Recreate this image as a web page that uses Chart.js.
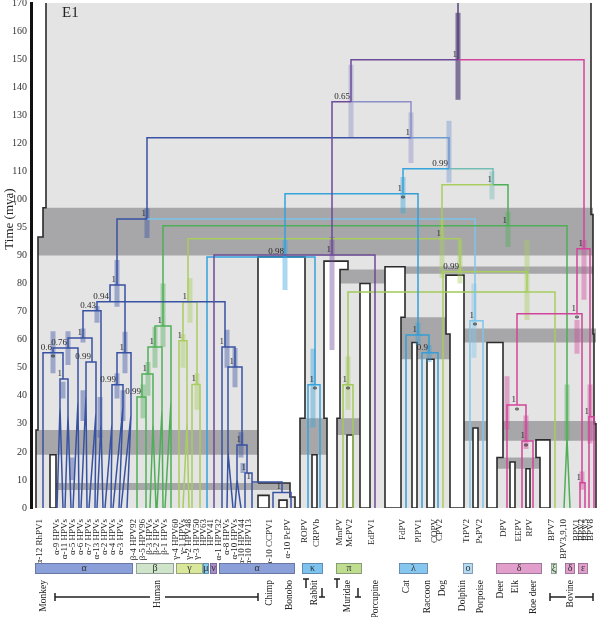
<!DOCTYPE html>
<html>
<head>
<meta charset="utf-8">
<script src="https://cdn.jsdelivr.net/npm/chart.js@4.4.1/dist/chart.umd.min.js"></script>
<style>
  html, body { margin: 0; padding: 0; background: #fff; }
</style>
</head>
<body>
<canvas id="tree" width="606" height="617"></canvas>
<script>
// ---- axis values ----
const yTicks = [0, 10, 20, 30, 40, 50, 60, 70, 80, 90, 95, 100, 110, 120, 130, 140, 150, 160, 170];

// ---- terminal taxa (left to right) ----
const taxa = ['α-12 RhPV1', 'α-9 HPVs', 'α-11 HPVs', 'α-5 HPVs', 'α-6 HPVs', 'α-7 HPVs', 'α-13 HPVs', 'α-2 HPVs',
  'α-4 HPVs', 'α-3 HPVs', 'β-4 HPV92', 'β-5 HPV96', 'β-3 HPVs', 'β-2 HPVs', 'β-1 HPVs', 'γ-4 HPV60', 'γ-1 HPVs',
  'γ-2 HPV48', 'γ-3 HPV50', 'HPV63', 'HPV41', 'α-1 HPV32', 'α-8 HPVs', 'α-10 HPVs', 'α-10 HPV44', 'α-10 HPV13',
  'α-10 CCPV1', 'α-10 PcPV', 'ROPV', 'CRPVb', 'MmPV', 'McPV2', 'EdPV1', 'FdPV', 'PlPV1', 'COPV', 'CPV2',
  'TtPV2', 'PsPV2', 'DPV', 'EEPV', 'RPV', 'BPV7', 'BPV3,9,10', 'BPV1', 'BPV2', 'BPV5', 'BPV8'];
const taxonX = [43, 60, 68, 76, 84, 92, 100, 108, 116, 124, 137, 146, 153, 160, 168, 179, 186, 192, 200, 207, 214,
  222, 230, 238, 245, 252, 273, 291, 308, 320, 343, 353, 375, 406, 422, 438, 443, 470, 483, 507, 522, 533, 555,
  567, 580, 585, 589, 594];

// ---- internal nodes: id, parent, x, age (mya), lineage ----
const nodes = [
  ['top', null, 458, 170, 'root'], ['R', 'top', 458, 149.8, 'root'],
  ['P065', 'R', 351, 134.8, 'nu'], ['DE', 'R', 584, 91.2, 'delta'],
  ['P1', 'P065', 332, 90.1, 'nu'], ['B1', 'P065', 411, 122, 'lav'],
  ['AO', 'B1', 147, 96.5, 'alpha'], ['C099', 'B1', 449, 110.9, 'slate'],
  ['K1', 'C099', 403, 102, 'kappa'], ['G1', 'C099', 493, 105.2, 'teal'],
  ['K098', 'K1', 285, 89.5, 'kappa'], ['L1', 'K1', 418, 61.7, 'lambda'], ['L2', 'L1', 429, 55.3, 'lambda'],
  ['Y1', 'G1', 442, 93, 'gamma'], ['X1', 'G1', 508, 95.3, 'beta'],
  ['Y099', 'Y1', 460, 84.2, 'gamma'], ['Y2', 'Y099', 527, 77, 'gamma'],
  ['O', 'AO', 475, 66.7, 'omikron'],
  ['Acr', 'AO', 117, 79.5, 'alpha'], ['N094', 'Acr', 110, 73.5, 'alpha'], ['N043', 'N094', 97, 70.3, 'alpha'],
  ['N1', 'N043', 83, 60.6, 'alpha'], ['N076', 'N1', 68, 57, 'alpha'], ['N06', 'N076', 53, 55.3, 'alpha'],
  ['Nx', 'N06', 63, 46, 'alpha'], ['N099a', 'N1', 92, 52, 'alpha'], ['NR', 'Acr', 125, 55.3, 'alpha'],
  ['N099b', 'NR', 117, 43.9, 'alpha'],
  ['A2', 'N094', 225, 57.4, 'alpha'], ['A2b', 'A2', 235, 50.3, 'alpha'], ['A2c', 'A2b', 242, 22.5, 'alpha'],
  ['A2d', 'A2c', 247, 12.5, 'alpha'], ['A2e', 'A2d', 252, 9.3, 'alpha'], ['A2f', 'A2e', 282, 5.5, 'alpha'],
  ['Bcr', 'X1', 163, 64.9, 'beta'], ['Bb', 'Bcr', 155, 57.4, 'beta'], ['Bc', 'Bb', 148, 47.8, 'beta'],
  ['Bd', 'Bc', 142, 39.6, 'beta'],
  ['Gcr', 'Y1', 188, 73.5, 'gamma'], ['Ga', 'Gcr', 183, 59.6, 'gamma'], ['Gb', 'Gcr', 197, 44, 'gamma'],
  ['Kc', 'K098', 315, 43.9, 'kappa'], ['Pc', 'Y2', 348, 43.9, 'pi'],
  ['D1', 'DE', 577, 69.2, 'delta'], ['D2', 'D1', 517, 36.7, 'delta'], ['D3', 'D2', 526, 23.9, 'delta'],
  ['BP12', 'D1', 582, 9, 'delta'], ['E1n', 'DE', 590, 32.5, 'delta']
];

// ---- tips, same order as taxa: parent, x of branch, crown age of the clade triangle, lineage ----
const tips = [
  ['N06', 43, 0, 'alpha'], ['Nx', 60, 36, 'alpha'], ['Nx', 68, 33, 'alpha'], ['N076', 78, 38, 'alpha'],
  ['N099a', 86, 40, 'alpha'], ['N099a', 96, 34, 'alpha'], ['N043', 101, 30, 'alpha'], ['N099b', 112, 30, 'alpha'],
  ['N099b', 123, 36, 'alpha'], ['NR', 131, 33, 'alpha'],
  ['Bd', 137, 0, 'beta'], ['Bd', 146, 0, 'beta'], ['Bc', 153, 30, 'beta'], ['Bb', 162, 35, 'beta'], ['Bcr', 171, 38, 'beta'],
  ['Ga', 179, 0, 'gamma'], ['Ga', 187, 30, 'gamma'], ['Gb', 192, 0, 'gamma'], ['Gb', 200, 0, 'gamma'],
  ['K098', 207, 0, 'kappa'], ['P1', 214, 0, 'nu'],
  ['A2', 222, 0, 'alpha'], ['A2b', 228, 20, 'alpha'], ['A2c', 237, 10, 'alpha'], ['A2d', 245, 0, 'alpha'],
  ['A2e', 252, 0, 'alpha'], ['A2f', 273, 0, 'alpha'], ['A2f', 291, 0, 'alpha'],
  ['Kc', 308, 0, 'kappa'], ['Kc', 320, 0, 'kappa'], ['Pc', 343, 0, 'pi'], ['Pc', 353, 0, 'pi'], ['P1', 375, 0, 'nu'],
  ['L1', 406, 0, 'lambda'], ['L2', 422, 0, 'lambda'], ['L2', 438, 0, 'lambda'], ['Y099', 443, 0, 'gamma'],
  ['O', 470, 0, 'omikron'], ['O', 483, 0, 'omikron'],
  ['D2', 507, 0, 'delta'], ['D3', 522, 0, 'delta'], ['D3', 533, 0, 'delta'],
  ['Y2', 555, 0, 'gamma'], ['X1', 567, 25, 'beta'],
  ['BP12', 580, 0, 'delta'], ['BP12', 585, 0, 'delta'], ['E1n', 589, 0, 'delta'], ['E1n', 594, 0, 'delta']
];

// ---- 95% HPD bars: x, low, high, lineage ----
const hpd = [
  [458, 135.5, 166.5, 'root'], [351, 122, 148, 'lav'], [411, 113, 131, 'lav'], [449, 106, 128, 'slate'],
  [403, 97.5, 108, 'kappa'], [492, 100, 110, 'teal'], [508, 91.5, 97.7, 'beta'], [442, 82, 96.5, 'gamma'],
  [285, 77.7, 92.8, 'kappa'], [332, 56.3, 93.3, 'nu'], [147, 93.1, 98.4, 'alpha'], [584, 74.2, 92.8, 'delta'],
  [460, 80, 92.8, 'gamma'], [527, 67, 92.8, 'gamma'], [190, 66, 82, 'gamma'], [183, 50, 62, 'gamma'],
  [197, 35, 48, 'gamma'], [163, 57.4, 80, 'beta'], [155, 50, 64.5, 'beta'], [148, 40, 52, 'beta'],
  [143, 32, 44, 'beta'], [117, 71.7, 88.4, 'alpha'], [97, 66, 72, 'alpha'], [83, 59, 64, 'alpha'],
  [68, 51, 63, 'alpha'], [53, 48, 63, 'alpha'], [125, 48, 62.8, 'alpha'], [117, 39, 48, 'alpha'],
  [313, 28.7, 56.8, 'kappa'], [348, 35, 54, 'pi'], [418, 58, 66, 'lambda'], [429, 52, 58, 'lambda'],
  [474, 53.5, 80, 'omikron'], [577, 55, 67, 'delta'], [507, 28, 47, 'delta'], [526, 21, 33, 'delta'],
  [590, 23, 44, 'delta'], [567, 24, 44, 'beta'], [582, 6.5, 13, 'delta'], [227, 50, 63.5, 'alpha'],
  [235, 43, 57, 'alpha'], [241, 18, 27, 'alpha'], [243, 12.5, 16, 'alpha'],
  [63, 39, 45, 'alpha'], [72, 10, 18, 'alpha'], [83, 31, 42, 'alpha'], [100, 25, 39.6, 'alpha'], [123, 31, 42, 'alpha']
];

// ---- posterior probabilities at nodes ----
const nodeLabels = [
  ['R', '1'], ['P065', '0.65'], ['B1', '1'], ['C099', '0.99'], ['G1', '1'], ['K1', '1'], ['X1', '1'], ['Y1', '1'],
  ['P1', '1'], ['K098', '0.98'], ['Y099', '0.99'], ['AO', '1'], ['DE', '1'], ['L1', '1'], ['L2', '0.9'], ['O', '1'],
  ['D1', '1'], ['D2', '1'], ['D3', '1'], ['E1n', '1'], ['BP12', '1'], ['Kc', '1'], ['Pc', '1'], ['Acr', '1'],
  ['N094', '0.94'], ['N043', '0.43'], ['N1', '1'], ['N076', '0.76'], ['N06', '0.6'], ['NR', '1'], ['N099b', '0.99'],
  ['N099a', '0.99'], ['Nx', '1'], ['Bcr', '1'], ['Bb', '1'], ['Bc', '1'], ['Bd', '0.99'], ['Gcr', '1'], ['Ga', '1'],
  ['Gb', '1'], ['A2', '1'], ['A2b', '1'], ['A2c', '1'], ['A2d', '1'], ['A2e', '1'], ['A2f', '1']
];
const starred = ['K1', 'O', 'D1', 'D2', 'D3', 'Kc', 'Pc', 'N06'];

// ---- host phylogeny (E1) ----
const hostBody = [[46, 170], [46, 98.5], [43, 98.5], [43, 93.3], [38, 93.3], [38, 27.8], [36, 27.8], [36, 0],
  [596, 0], [596, 30], [594, 30], [594, 62], [593, 62], [593, 97.3], [591, 97.3], [591, 170]];
const hostBands = [
  [[38, 90], [593, 90], [593, 98.5], [43, 98.5], [43, 93.3], [38, 93.3]],
  [[36, 19], [258, 19], [258, 27.8], [36, 27.8]],
  [[300, 19], [327, 19], [327, 32], [300, 32]],
  [[337, 26], [363, 26], [363, 32], [337, 32]],
  [[462, 24], [490, 24], [490, 31], [462, 31]],
  [[500, 24], [596, 24], [596, 31], [500, 31]],
  [[56, 6.4], [295, 6.4], [295, 8.9], [56, 8.9]],
  [[337, 80], [385, 80], [385, 85], [337, 85]],
  [[405, 83.5], [593, 83.5], [593, 86.1], [405, 86.1]],
  [[401, 53], [452, 53], [452, 68], [401, 68]],
  [[464, 59], [596, 59], [596, 64], [464, 64]],
  [[497, 14], [540, 14], [540, 18], [497, 18]]
];
const hostGaps = [
  [[50, 0], [50, 19], [56, 19], [56, 0]],
  [[258, 8.9], [258, 89.5], [305, 89.5], [305, 32], [300, 32], [300, 0], [295, 0], [295, 3.9], [290, 3.9], [290, 8.9]],
  [[258, 0], [258, 4.5], [269, 4.5], [269, 0]],
  [[279, 0], [279, 2.8], [287, 2.8], [287, 0]],
  [[312, 0], [312, 19], [317, 19], [317, 0]],
  [[327, 0], [327, 32], [324, 32], [324, 88], [348, 88], [348, 85], [340, 85], [340, 32], [337, 32], [337, 0]],
  [[347, 0], [347, 26], [353, 26], [353, 0]],
  [[360, 0], [360, 80], [370, 80], [370, 0]],
  [[385, 0], [385, 86], [405, 86], [405, 68], [401, 68], [401, 0]],
  [[412, 0], [412, 59], [417, 59], [417, 0]],
  [[427, 0], [427, 53], [434, 53], [434, 0]],
  [[450, 0], [450, 62], [446, 62], [446, 83], [464, 83], [464, 0]],
  [[473, 0], [473, 28.5], [478, 28.5], [478, 0]],
  [[487, 0], [487, 59], [503, 59], [503, 18], [497, 18], [497, 0]],
  [[510, 0], [510, 16.4], [515, 16.4], [515, 0]],
  [[526, 0], [526, 14], [530, 14], [530, 0]],
  [[540, 0], [540, 18], [536, 18], [536, 24.3], [550, 24.3], [550, 0]]
];

// ---- PV genus bars and host names under the taxa ----
const genusBars = [
  [35, 133, 'α', '#8b9fd8'], [136, 174, 'β', '#cfe4c8'], [176, 203, 'γ', '#d9e79a'], [203, 209, 'μ', '#7fcbef'],
  [210, 217, 'ν', '#a88bc9'], [219, 295, 'α', '#8b9fd8'], [302, 323, 'κ', '#7cc3ef'], [336, 362, 'π', '#bedd8e'],
  [399, 428, 'λ', '#86c7ef'], [463, 473, 'ο', '#b5dcf3'], [496, 542, 'δ', '#e39fcb'], [551, 557, 'ξ', '#cfe8c7'],
  [565, 575, 'δ', '#e39fcb'], [578, 588, 'ε', '#e39fcb']
];
const hosts = [['Monkey', 43], ['Human', 157], ['Chimp', 269], ['Bonobo', 289], ['Rabbit', 314], ['Muridae', 347],
  ['Porcupine', 375], ['Cat', 406], ['Raccoon', 427], ['Dog', 442], ['Dolphin', 462], ['Porpoise', 480],
  ['Deer', 500], ['Elk', 515], ['Roe deer', 533], ['Bovine', 570]];
const hostSpans = [[55, 258, 150, 165], [550, 593, 566, 575]];
const hostTicks = [[306, 322], [337, 358]];

const colours = {
  root: '#54437a', nu: '#6d4b98', lav: '#8d8fc8', slate: '#6f97d0', alpha: '#3852a3', kappa: '#35a3dc',
  teal: '#73bdb5', lambda: '#359ed8', omikron: '#7ec5ea', gamma: '#a9cd5e', pi: '#a2c95a', beta: '#4faf57',
  delta: '#d2449b'
};
const fade = (hex, a) => {
  const n = parseInt(hex.slice(1), 16);
  return `rgba(${n >> 16},${(n >> 8) & 255},${n & 255},${a})`;
};

// time axis stretched between 90 and 100 mya, as in the figure
const bend = v => v <= 90 ? v : v <= 100 ? 90 + (v - 90) * 2 : v + 10;
const unbend = f => f <= 90 ? f : f <= 110 ? 90 + (f - 90) / 2 : f - 10;
class StretchScale extends Chart.LinearScale {
  getPixelForValue(v) {
    if (v === null || isNaN(v)) return NaN;
    const a = bend(this.min), b = bend(this.max);
    return this.getPixelForDecimal((bend(v) - a) / (b - a));
  }
  getValueForPixel(p) {
    const a = bend(this.min), b = bend(this.max);
    return unbend(a + this.getDecimalForPixel(p) * (b - a));
  }
}
StretchScale.id = 'stretch';
StretchScale.defaults = Chart.LinearScale.defaults;
Chart.register(StretchScale);

// ---- build the datasets ----
const byId = {};
nodes.forEach(n => { byId[n[0]] = { x: n[2], age: n[3] }; });
const gap = { x: NaN, y: NaN };
const branches = {};
const push = (col, pts) => { (branches[col] = branches[col] || []).push(...pts, gap); };
nodes.forEach(([id, par, x, age, col]) => {
  if (!par) return;
  const p = byId[par];
  push(col, [{ x: p.x, y: p.age }, { x, y: p.age }, { x, y: age }]);
});
tips.forEach(([par, x, crown, col], i) => {
  const p = byId[par];
  const t = taxonX[i];
  if (crown > 0) {
    push(col, [{ x: p.x, y: p.age }, { x, y: p.age }, { x, y: crown }, { x: t - 3, y: 0 }]);
    push(col, [{ x, y: crown }, { x: t + 3, y: 0 }]);
  } else {
    push(col, [{ x: p.x, y: p.age }, { x, y: p.age }, { x, y: 0 }]);
  }
});
const bars = {};
hpd.forEach(([x, lo, hi, col]) => { (bars[col] = bars[col] || []).push({ x, y: lo }, { x, y: hi }, gap); });

const asPts = arr => arr.map(([x, y]) => ({ x, y }));
const closed = arr => asPts(arr.concat([arr[0]]));
const lineSet = (data, color, width, order) => ({
  data, showLine: true, borderColor: color, borderWidth: width, pointRadius: 0, tension: 0,
  spanGaps: false, fill: false, order, borderJoinStyle: 'miter', borderCapStyle: 'butt'
});
const shapeSet = (pts, bg, stroke, width, order) => ({
  data: closed(pts), showLine: true, fill: 'shape', backgroundColor: bg, borderColor: stroke,
  borderWidth: width, pointRadius: 0, tension: 0, order, borderJoinStyle: 'miter'
});

const datasets = [];
datasets.push(shapeSet(hostBody, '#e4e4e4', 'rgba(0,0,0,0)', 0, 100));
hostBands.forEach(b => datasets.push(shapeSet(b, '#a7a7a9', 'rgba(0,0,0,0)', 0, 90)));
hostGaps.forEach(g => datasets.push(shapeSet(g, '#ffffff', '#2b2b2b', 1.6, 80)));
datasets.push(lineSet(asPts(hostBody.slice(0, 8)), '#2b2b2b', 1.6, 79));
datasets.push(lineSet(asPts(hostBody.slice(8)), '#2b2b2b', 1.6, 79));
Object.keys(bars).forEach(c => datasets.push(lineSet(bars[c], fade(colours[c], c === 'root' ? 0.7 : 0.42), 5, 50)));
Object.keys(branches).forEach(c => datasets.push(lineSet(branches[c], colours[c], 1.5, 10)));

const serif = '"Liberation Serif", "DejaVu Serif", serif';

const overlay = {
  id: 'overlay',
  afterDatasetsDraw(chart) {
    const { ctx, scales: { x, y } } = chart;
    ctx.save();
    ctx.fillStyle = '#2a2a2a';
    ctx.font = '9px ' + serif;
    ctx.textAlign = 'right';
    ctx.textBaseline = 'bottom';
    nodeLabels.forEach(([id, txt]) => {
      const n = byId[id];
      ctx.fillText(txt, x.getPixelForValue(n.x) - 1, y.getPixelForValue(n.age) - 1);
    });
    ctx.textAlign = 'center';
    ctx.textBaseline = 'top';
    ctx.font = '10px ' + serif;
    starred.forEach(id => {
      const n = byId[id];
      ctx.fillText('*', x.getPixelForValue(n.x), y.getPixelForValue(n.age) + 1);
    });
    // E1 label of the host tree
    ctx.font = '15px ' + serif;
    ctx.textAlign = 'left';
    ctx.textBaseline = 'middle';
    ctx.fillStyle = '#222';
    ctx.fillText('E1', x.getPixelForValue(62), y.getPixelForValue(166.5));
    // axis title
    ctx.save();
    ctx.translate(10, y.getPixelForValue(96.5));
    ctx.rotate(-Math.PI / 2);
    ctx.textAlign = 'center';
    ctx.font = '13px ' + serif;
    ctx.fillText('Time (mya)', 0, 0);
    ctx.restore();
    ctx.restore();
  },
  afterDraw(chart) {
    const { ctx, scales: { x }, chartArea: a } = chart;
    const top = a.bottom + 55;
    ctx.save();
    ctx.lineWidth = 0.8;
    genusBars.forEach(([x1, x2, txt, fill]) => {
      const l = x.getPixelForValue(x1), r = x.getPixelForValue(x2);
      ctx.fillStyle = fill;
      ctx.fillRect(l, top, r - l, 11);
      ctx.strokeStyle = 'rgba(60,60,90,0.5)';
      ctx.strokeRect(l + 0.5, top + 0.5, r - l - 1, 10);
      ctx.fillStyle = '#333';
      ctx.font = '10px ' + serif;
      ctx.textAlign = 'center';
      ctx.textBaseline = 'middle';
      ctx.fillText(txt, (l + r) / 2, top + 5.5);
    });
    // host names
    ctx.fillStyle = '#222';
    ctx.font = '9.5px ' + serif;
    hosts.forEach(([name, hx]) => {
      ctx.save();
      ctx.translate(x.getPixelForValue(hx), a.bottom + 72);
      ctx.rotate(-Math.PI / 2);
      ctx.textAlign = 'right';
      ctx.textBaseline = 'middle';
      ctx.fillText(name, 0, 0);
      ctx.restore();
    });
    ctx.strokeStyle = '#222';
    ctx.lineWidth = 1.5;
    const yb = a.bottom + 89;
    hostSpans.forEach(([x1, x2, g1, g2]) => {
      const p = v => x.getPixelForValue(v);
      ctx.beginPath();
      ctx.moveTo(p(x1), yb); ctx.lineTo(p(g1), yb);
      ctx.moveTo(p(g2), yb); ctx.lineTo(p(x2), yb);
      ctx.moveTo(p(x1), yb - 4); ctx.lineTo(p(x1), yb + 4);
      ctx.moveTo(p(x2), yb - 4); ctx.lineTo(p(x2), yb + 4);
      ctx.stroke();
    });
    hostTicks.forEach(([x1, x2]) => {
      const l = x.getPixelForValue(x1), r = x.getPixelForValue(x2);
      ctx.beginPath();
      ctx.moveTo(l - 3, a.bottom + 71); ctx.lineTo(l + 3, a.bottom + 71);
      ctx.moveTo(l, a.bottom + 71); ctx.lineTo(l, a.bottom + 80);
      ctx.moveTo(r - 3, a.bottom + 89); ctx.lineTo(r + 3, a.bottom + 89);
      ctx.moveTo(r, a.bottom + 80); ctx.lineTo(r, a.bottom + 89);
      ctx.stroke();
    });
    ctx.restore();
  }
};

new Chart(document.getElementById('tree'), {
  type: 'scatter',
  data: { datasets },
  options: {
    responsive: false,
    devicePixelRatio: 1,
    animation: false,
    layout: { padding: { top: 3, right: 5, left: 0, bottom: 0 } },
    plugins: { legend: { display: false }, tooltip: { enabled: false } },
    scales: {
      x: {
        type: 'linear', min: 31, max: 601,
        grid: { display: false }, border: { display: false },
        ticks: {
          autoSkip: false, minRotation: 90, maxRotation: 90, padding: 3, labelOffset: -3,
          font: { family: serif, size: 9 }, color: '#222',
          callback: (v, i) => taxa[i]
        },
        afterBuildTicks: s => { s.ticks = taxonX.map(v => ({ value: v })); },
        afterFit: s => { s.height = 109; s.paddingLeft = 0; s.paddingRight = 0; }
      },
      y: {
        type: 'stretch', min: 0, max: 170,
        grid: { display: false, drawTicks: false },
        border: { display: true, color: '#111', width: 3 },
        ticks: { autoSkip: false, padding: 4, font: { family: serif, size: 10 }, color: '#333', callback: v => v },
        afterBuildTicks: s => { s.ticks = yTicks.map(v => ({ value: v })); },
        afterFit: s => { s.width = 31; s.paddingTop = 0; s.paddingBottom = 0; }
      }
    }
  },
  plugins: [overlay]
});
</script>
</body>
</html>
